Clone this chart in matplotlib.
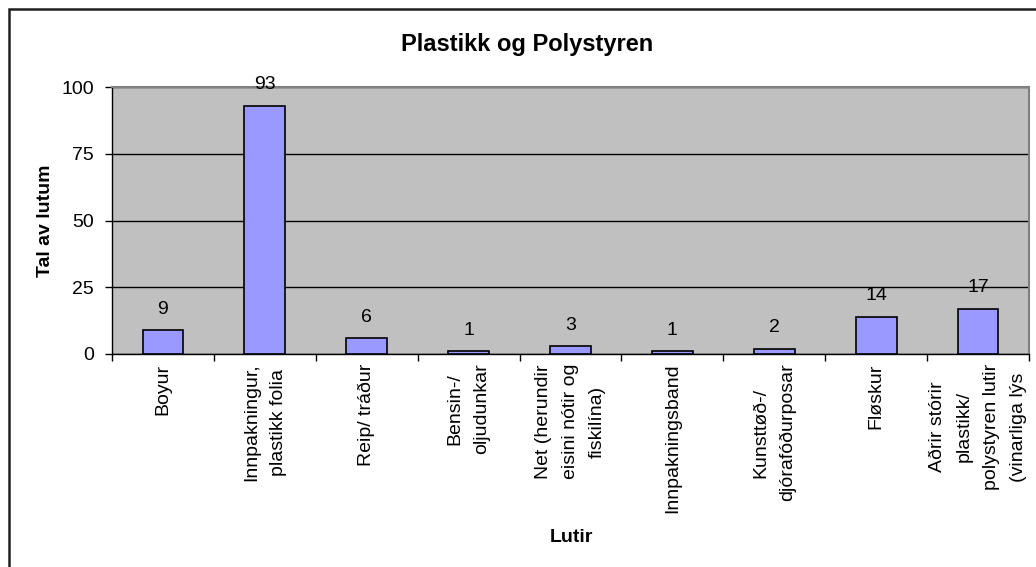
import matplotlib.pyplot as plt
from matplotlib.patches import Rectangle

plt.rcParams['font.family'] = ['Liberation Sans', 'DejaVu Sans']

categories = ['Boyur', 'Innpakningur,\nplastikk folia', 'Reip/ tráður',
              'Bensin-/\noljudunkar', 'Net (herundir\neisini nótir og\nfiskilína)',
              'Innpakningsband', 'Kunsttøð-/\ndjórafóðurposar', 'Fløskur',
              'Aðrir stórir\nplastikk/\npolystyren lutir\n(vinarliga lýs']
counts = [9, 93, 6, 1, 3, 1, 2, 14, 17]
yticks = [0, 25, 50, 75, 100]

fig = plt.figure(figsize=(10.36, 5.67), dpi=100)
ax = fig.add_axes([112/1036, 1-354/567, (1029-112)/1036, (354-87)/567])

# outer chart frame (runs off right and bottom edge)
fig.patches.append(Rectangle((9/1036, -0.1), 1.2, 0.1 + 1 - 9/567,
                             transform=fig.transFigure, fill=False,
                             edgecolor='#202020', linewidth=1.8))

ax.set_facecolor('#C0C0C0')
x = list(range(len(categories)))
ax.bar(x, counts, width=0.4, color='#9999FF', edgecolor='black', linewidth=1.2, zorder=3)
for xi, c in zip(x, counts):
    ax.annotate(str(c), (xi, c), xytext=(0, 15), textcoords='offset points',
                ha='center', va='center', fontsize=14)

ax.set_xlim(-0.5, len(categories) - 0.5)
ax.set_ylim(0, 100)
ax.set_yticks(yticks)
ax.yaxis.grid(True, color='black', linewidth=1, zorder=1)
ax.set_axisbelow(True)

ax.set_xticks([i - 0.5 for i in range(len(categories) + 1)])
ax.set_xticklabels([])
ax.set_xticks(x, minor=True)
ax.set_xticklabels(categories, minor=True, rotation=90, ha='center', va='top',
                   multialignment='center', fontsize=14, linespacing=1.75)
ax.tick_params(axis='x', which='major', length=5, width=1, direction='out')
ax.tick_params(axis='x', which='minor', length=0, pad=7)
ax.tick_params(axis='y', length=5, width=1, direction='out', pad=8, labelsize=14)

for s in ['top', 'right']:
    ax.spines[s].set_color('#808080')
    ax.spines[s].set_linewidth(1.5)
for s in ['left', 'bottom']:
    ax.spines[s].set_color('black')
    ax.spines[s].set_linewidth(1)

fig.text(527/1036, 1-45/567, 'Plastikk og Polystyren', ha='center', va='center',
         fontsize=17, fontweight='bold')
fig.text(571/1036, 1-537/567, 'Lutir', ha='center', va='center',
         fontsize=14, fontweight='bold')
fig.text(46/1036, 1-221/567, 'Tal av lutum', ha='center', va='center',
         rotation=90, fontsize=14, fontweight='bold')

fig.savefig('out.png', dpi=100)
